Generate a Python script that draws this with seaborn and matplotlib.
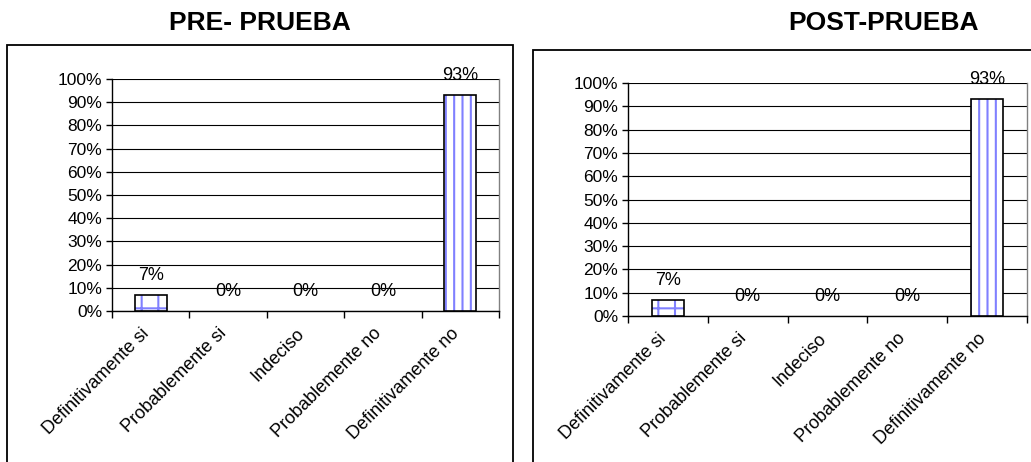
import numpy as np
import pandas as pd
import seaborn as sns
import matplotlib.pyplot as plt
import matplotlib.transforms as mtransforms
from matplotlib.patches import Rectangle

categories = ['Definitivamente si', 'Probablemente si', 'Indeciso',
              'Probablemente no', 'Definitivamente no']
pre_values = [7, 0, 0, 0, 93]
post_values = [7, 0, 0, 0, 93]
titles = ['PRE- PRUEBA', 'POST-PRUEBA']
hatches = ['+', '', '', '', '||']

sns.set_style('white')
plt.rcParams['font.family'] = ['Liberation Sans', 'DejaVu Sans']
plt.rcParams['text.color'] = 'black'
plt.rcParams['xtick.color'] = 'black'
plt.rcParams['ytick.color'] = 'black'
plt.rcParams['hatch.linewidth'] = 1.5

fig = plt.figure(figsize=(10.31, 4.62), dpi=100)

# outer frames around each chart
fig.patches.append(Rectangle((7 / 1031, -0.05), 506 / 1031, 0.9526, transform=fig.transFigure,
                             fill=False, edgecolor='black', linewidth=1.3))
fig.patches.append(Rectangle((533 / 1031, -0.05), 0.6, 0.942, transform=fig.transFigure,
                             fill=False, edgecolor='black', linewidth=1.3))

axes_pos = [[112 / 1031, 1 - 311 / 462, 387 / 1031, 232 / 462],
            [628 / 1031, 1 - 316 / 462, 399 / 1031, 233 / 462]]
title_pos = [(260 / 1031, 1 - 23 / 462), (884 / 1031, 1 - 23 / 462)]
shift = mtransforms.ScaledTranslation(-10 / 100, 0, fig.dpi_scale_trans)

for k, values in enumerate([pre_values, post_values]):
    ax = fig.add_axes(axes_pos[k])
    df = pd.DataFrame({'cat': categories, 'val': values})
    sns.barplot(data=df, x='cat', y='val', ax=ax, color='white', edgecolor='#8080ff',
                linewidth=0, width=0.41, saturation=1, zorder=3)
    for p, h in zip(ax.patches, hatches):
        p.set_hatch(h)
    n = len(ax.patches)
    sns.barplot(data=df, x='cat', y='val', ax=ax, fill=False, edgecolor='black',
                linewidth=1.2, width=0.41, zorder=4)
    for p, v in zip(ax.patches[n:], values):
        if v == 0:
            p.set_linewidth(0)

    for i, v in enumerate(values):
        ax.annotate(f'{v}%', (i, v), xytext=(0, 8), textcoords='offset points',
                    ha='center', va='bottom', fontsize=13)

    ax.set_ylim(0, 100)
    ax.set_xlim(-0.5, 4.5)
    ax.set_yticks(np.arange(0, 101, 10))
    ax.set_yticklabels([f'{t}%' for t in range(0, 101, 10)], fontsize=12.5)
    ax.yaxis.grid(True, color='black', linewidth=0.8)
    ax.set_axisbelow(True)
    ax.set_xticks(range(5))
    ax.set_xticks(np.arange(-0.5, 5, 1), minor=True)
    ax.tick_params(axis='x', which='major', length=0, pad=10)
    ax.tick_params(axis='x', which='minor', length=5, width=1, direction='out', bottom=True)
    ax.tick_params(axis='y', length=4, width=1, direction='out', left=True, pad=3)
    ax.set_xticklabels(categories, rotation=45, ha='right', rotation_mode='anchor', fontsize=13)
    for lab in ax.get_xticklabels():
        lab.set_transform(lab.get_transform() + shift)
    ax.set_xlabel('')
    ax.set_ylabel('')
    for s in ['left', 'bottom']:
        ax.spines[s].set_color('black')
        ax.spines[s].set_linewidth(1)
    ax.spines['top'].set_visible(False)
    ax.spines['right'].set_color('#808080')
    ax.spines['right'].set_linewidth(1)

    fig.text(title_pos[k][0], title_pos[k][1], titles[k], ha='center', va='center',
             fontsize=19, fontweight='bold')

fig.savefig('out.png', dpi=100)
